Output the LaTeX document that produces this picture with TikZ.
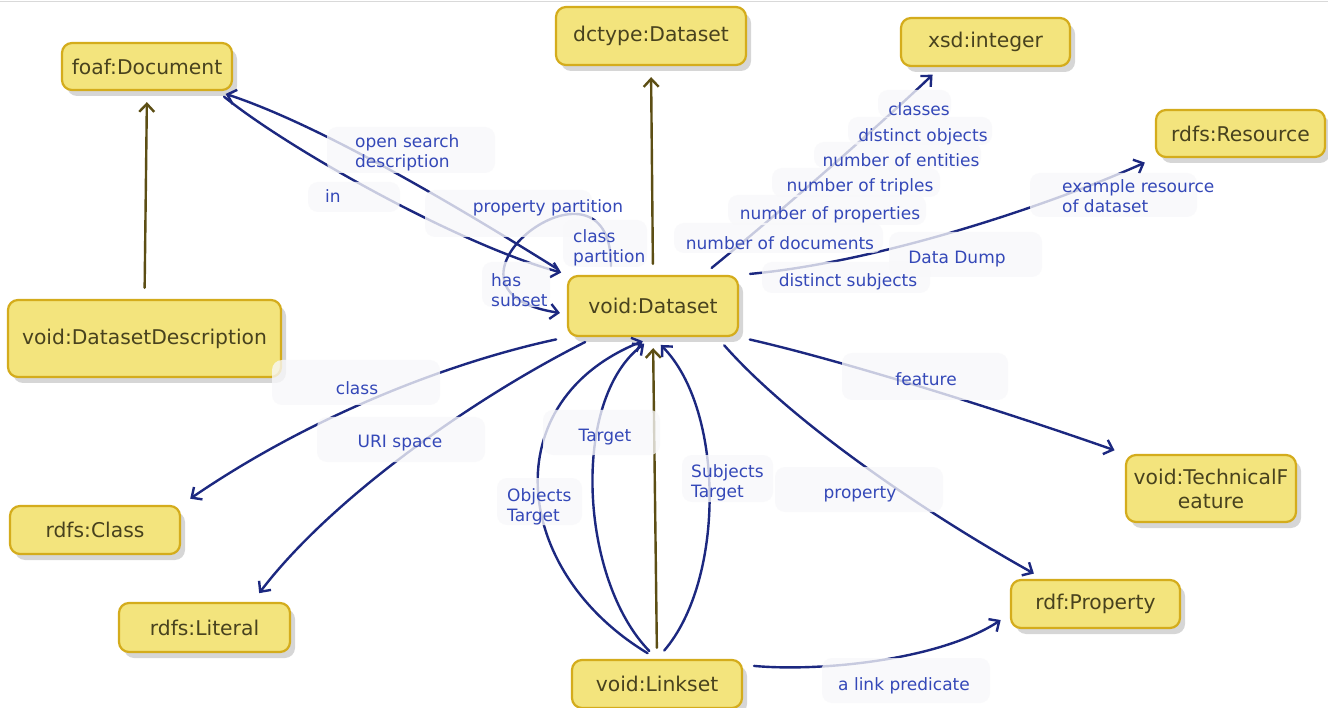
\documentclass[tikz,border=0pt]{standalone}
\usepackage{fontspec}
\setmainfont{DejaVu Sans}
\usetikzlibrary{arrows.meta,shadows}
\definecolor{nodefill}{RGB}{243,228,125}
\definecolor{nodeborder}{RGB}{212,172,28}
\definecolor{nodetext}{RGB}{72,66,30}
\definecolor{edgeblue}{RGB}{28,40,128}
\definecolor{labelblue}{RGB}{52,72,184}
\definecolor{edgebrown}{RGB}{92,78,20}
\definecolor{labelbg}{RGB}{248,248,250}
\begin{document}
\begin{tikzpicture}[x=1pt,y=-1pt,
  cnode/.style={draw=nodeborder, line width=2.2pt, fill=nodefill, rounded corners=10pt,
    text=nodetext, font=\fontsize{20.3}{24}\selectfont, align=center, inner sep=0pt,
    drop shadow={shadow xshift=5pt, shadow yshift=-6pt, opacity=0.16, fill=black}},
  lbox/.style={fill=labelbg, fill opacity=0.78, rounded corners=10pt},
  lbl/.style={text=labelblue, inner sep=0pt, font=\fontsize{17}{20}\selectfont, align=left},
  rel/.style={draw=edgeblue, line width=2.4pt, line cap=round,
    -{Straight Barb[length=8pt,width=15pt]}, shorten >=11pt, shorten <=11pt},
  brownrel/.style={draw=edgebrown, line width=2.4pt, line cap=round,
    -{Straight Barb[length=8pt,width=15pt]}, shorten >=11pt, shorten <=11pt}
]
\useasboundingbox (0,0) rectangle (1328,708);
\fill[white] (0,0) rectangle (1328,708);
\draw[black!15, line width=1pt] (0,2) -- (1328,2);

% nodes
\node[cnode, minimum width=170pt, minimum height=47pt] (foaf) at (147,66.5) {foaf:Document};
\node[cnode, minimum width=190pt, minimum height=58pt] (dct) at (651,36) {dctype:Dataset};
\node[cnode, minimum width=169pt, minimum height=48pt] (xsd) at (985.5,42) {xsd:integer};
\node[cnode, minimum width=169pt, minimum height=47pt] (res) at (1240.5,133.5) {rdfs:Resource};
\node[cnode, minimum width=273pt, minimum height=77pt] (dsd) at (144.5,338.5) {void:DatasetDescription};
\node[cnode, minimum width=170pt, minimum height=60pt] (ds) at (653,306) {void:Dataset};
\node[cnode, minimum width=170pt, minimum height=48pt] (rclass) at (95,530) {rdfs:Class};
\node[cnode, minimum width=171pt, minimum height=49pt] (lit) at (204.5,627.5) {rdfs:Literal};
\node[cnode, minimum width=170pt, minimum height=67pt] (tf) at (1211,488.5) {void:TechnicalF\\eature};
\node[cnode, minimum width=169pt, minimum height=48pt] (prop) at (1095.5,604) {rdf:Property};
\node[cnode, minimum width=170pt, minimum height=48pt] (ls) at (657,684) {void:Linkset};

% subclass arrows
\draw[brownrel] (dsd.north) -- (foaf.south);
\draw[brownrel] (ds.north) -- (dct.south);
\draw[brownrel] (ls.north) -- (ds.south);

% relations
\draw[rel, shorten >=9pt] (ds.north west) .. controls (455,205) and (320,125) .. ([xshift=-16pt]foaf.south east);
\draw[rel, shorten <=9pt, shorten >=9pt] ([xshift=-16pt]foaf.south east) .. controls (290,150) and (460,245) .. ([xshift=3pt]ds.north west);
\draw[rel, shorten <=9pt, shorten >=7pt] ([xshift=44pt]ds.north west) .. controls (612,135) and (410,290) .. ([yshift=-8pt]ds.west);
\draw[rel] ([xshift=-36pt]ds.north east) .. controls (780,212) and (880,125) .. ([xshift=-45pt]xsd.south);
\draw[rel] (ds.north east) .. controls (880,262) and (1050,205) .. (res.south west);
\draw[rel] (ds.south west) .. controls (460,360) and (320,410) .. (rclass.north east);
\draw[rel] ([xshift=-58pt]ds.south) .. controls (470,400) and (330,500) .. ([xshift=48pt]lit.north);
\draw[rel] (ds.south east) .. controls (840,360) and (1000,410) .. (tf.north west);
\draw[rel] ([xshift=64pt]ds.south) .. controls (790,420) and (920,510) .. ([xshift=-52pt]prop.north);
\draw[rel] (ls.north) .. controls (510,570) and (495,400) .. (ds.south);
\draw[rel] (ls.north) .. controls (580,580) and (570,400) .. (ds.south);
\draw[rel] (ls.north) .. controls (725,580) and (725,410) .. (ds.south);
\draw[rel] ([yshift=-6pt]ls.north east) .. controls (820,672) and (940,660) .. ([yshift=-10pt]prop.west);

% label backgrounds
\fill[lbox] (327,127) rectangle (495,173);
\fill[lbox] (308,182) rectangle (400,212);
\fill[lbox] (425,190) rectangle (592,237);
\fill[lbox] (563,220) rectangle (647,267);
\fill[lbox] (482,262) rectangle (550,307);
\fill[lbox] (674,223) rectangle (883,253);
\fill[lbox] (728,195) rectangle (926,225);
\fill[lbox] (772,168) rectangle (940,197);
\fill[lbox] (814,142) rectangle (981,168);
\fill[lbox] (848,117) rectangle (992,145);
\fill[lbox] (878,90) rectangle (951,118);
\fill[lbox] (889,232) rectangle (1042,277);
\fill[lbox] (762,262) rectangle (930,293);
\fill[lbox] (1030,173) rectangle (1197,217);
\fill[lbox] (272,360) rectangle (440,405);
\fill[lbox] (317,417) rectangle (485,462);
\fill[lbox] (842,353) rectangle (1008,400);
\fill[lbox] (775,467) rectangle (943,512);
\fill[lbox] (543,410) rectangle (660,455);
\fill[lbox] (497,478) rectangle (582,525);
\fill[lbox] (682,455) rectangle (773,502);
\fill[lbox] (822,658) rectangle (990,703);

% labels
\node[lbl, anchor=west] (l-osd) at (355,153) {open search\\description};
\node[lbl, anchor=west] (l-in) at (325,196) {in};
\node[lbl] (l-pp) at (548,208) {property partition};
\node[lbl, anchor=west] (l-cp) at (573,248) {class\\partition};
\node[lbl, anchor=west] (l-hs) at (491,290) {has\\subset};
\node[lbl] (l-nd) at (780,243) {number of documents};
\node[lbl] (l-np) at (830,215) {number of properties};
\node[lbl] (l-nt) at (860,187) {number of triples};
\node[lbl] (l-ne) at (901,160) {number of entities};
\node[lbl] (l-do) at (923,137) {distinct objects};
\node[lbl] (l-cl) at (919,109) {classes};
\node[lbl] (l-dd) at (957,259) {Data Dump};
\node[lbl] (l-ds) at (848,282) {distinct subjects};
\node[lbl, anchor=west] (l-er) at (1062,196) {example resource\\of dataset};
\node[lbl] (l-class) at (357,388) {class};
\node[lbl] (l-uri) at (400,443) {URI space};
\node[lbl] (l-feat) at (926,379) {feature};
\node[lbl] (l-prop) at (860,494) {property};
\node[lbl, anchor=west] (l-ot) at (507,507) {Objects\\Target};
\node[lbl] (l-t) at (605,437) {Target};
\node[lbl, anchor=west] (l-st) at (691,483) {Subjects\\Target};
\node[lbl] (l-lp) at (904,686) {a link predicate};
\end{tikzpicture}
\end{document}
